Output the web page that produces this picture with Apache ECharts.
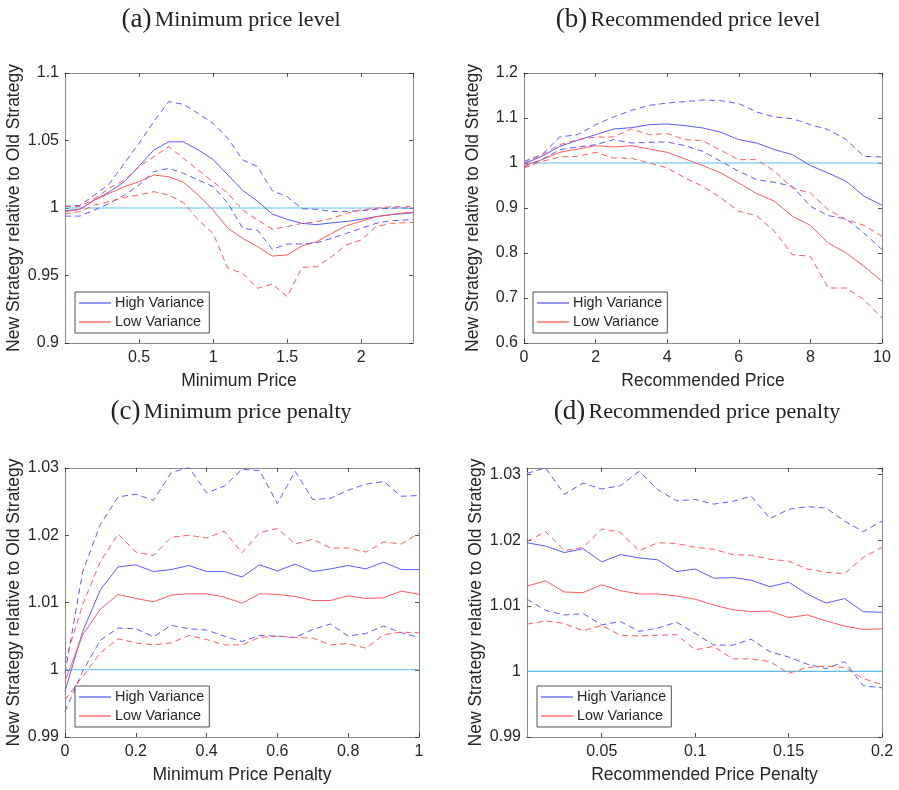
<!DOCTYPE html>
<html>
<head>
<meta charset="utf-8">
<script src="https://cdn.jsdelivr.net/npm/echarts@6/dist/echarts.min.js"></script>
<style>
  html, body { margin: 0; padding: 0; background: #fff; }
  #chart { width: 899px; height: 790px; }
</style>
</head>
<body>
<div id="chart"></div>
<script>
// ---- (a) Minimum price level ----
const minPriceX = [0, 0.1, 0.2, 0.3, 0.4, 0.5, 0.6, 0.7, 0.8, 0.9, 1.0, 1.1, 1.2, 1.3, 1.4, 1.5, 1.6, 1.7, 1.8, 1.9, 2.0, 2.1, 2.2, 2.3, 2.35];
const minPriceHiMean  = [0.998, 0.999, 1.006, 1.012, 1.0195, 1.031, 1.043, 1.049, 1.049, 1.043, 1.036, 1.0245, 1.013, 1.005, 0.9955, 0.9916, 0.9886, 0.9877, 0.989, 0.990, 0.9916, 0.9936, 0.995, 0.996, 0.9965];
const minPriceHiUpper = [1.001, 1.002, 1.0096, 1.018, 1.033, 1.048, 1.064, 1.0788, 1.0768, 1.070, 1.0627, 1.0516, 1.0356, 1.0306, 1.0128, 1.0084, 0.9995, 0.999, 0.9975, 0.9975, 0.998, 0.999, 1.0, 1.0, 1.0];
const minPriceHiLower = [0.994, 0.994, 0.9985, 1.0035, 1.0096, 1.017, 1.0269, 1.0294, 1.0257, 1.0207, 1.0158, 1.0035, 0.985, 0.9835, 0.9694, 0.9733, 0.9733, 0.9743, 0.9775, 0.9812, 0.9849, 0.9886, 0.9906, 0.9911, 0.9915];
const minPriceLoMean  = [0.9973, 0.999, 1.0059, 1.0109, 1.0158, 1.0195, 1.0244, 1.0232, 1.019, 1.0096, 0.9985, 0.985, 0.9775, 0.9714, 0.9644, 0.9652, 0.9719, 0.9751, 0.9812, 0.9869, 0.9901, 0.9936, 0.9951, 0.9965, 0.997];
const minPriceLoUpper = [1.0015, 1.001, 1.007, 1.0146, 1.0207, 1.0306, 1.038, 1.0454, 1.0368, 1.0281, 1.0195, 1.0109, 0.9985, 0.991, 0.9844, 0.9862, 0.9886, 0.9899, 0.9923, 0.996, 0.9985, 0.9998, 1.001, 1.001, 1.001];
const minPriceLoLower = [0.9956, 0.9973, 1.0022, 1.0047, 1.0079, 1.0096, 1.0121, 1.0096, 1.004, 0.9911, 0.9812, 0.9553, 0.9516, 0.9405, 0.9437, 0.9343, 0.956, 0.9565, 0.964, 0.9726, 0.9763, 0.9862, 0.9886, 0.9891, 0.9893];

// ---- (b) Recommended price level ----
const recPriceX = [0, 0.5, 1, 1.5, 2, 2.5, 3, 3.5, 4, 4.5, 5, 5.5, 6, 6.5, 7, 7.5, 8, 8.5, 9, 9.5, 10];
const recPriceHiMean  = [0.9985, 1.0148, 1.037, 1.0504, 1.063, 1.0756, 1.0785, 1.0852, 1.0867, 1.083, 1.0778, 1.0681, 1.0519, 1.0444, 1.0296, 1.0185, 0.9941, 0.9778, 0.9593, 0.926, 0.906];
const recPriceHiUpper = [1.0037, 1.0185, 1.0578, 1.063, 1.0852, 1.1022, 1.117, 1.128, 1.1333, 1.1363, 1.14, 1.1385, 1.1319, 1.1133, 1.1022, 1.0985, 1.0852, 1.0741, 1.0519, 1.0148, 1.0133];
const recPriceHiLower = [0.9911, 1.0074, 1.0296, 1.0356, 1.0407, 1.0519, 1.0444, 1.0459, 1.0467, 1.0385, 1.0259, 1.0037, 0.9815, 0.963, 0.957, 0.9481, 0.9037, 0.883, 0.8756, 0.8444, 0.8074];
const recPriceLoMean  = [0.9941, 1.0074, 1.0237, 1.0311, 1.0385, 1.0356, 1.0385, 1.0311, 1.0237, 1.0089, 0.9941, 0.9778, 0.9556, 0.9319, 0.9148, 0.8815, 0.8615, 0.8222, 0.8, 0.7704, 0.737];
const recPriceLoUpper = [0.9995, 1.0185, 1.0407, 1.0519, 1.0578, 1.0578, 1.0756, 1.063, 1.0652, 1.0519, 1.0496, 1.0281, 1.0074, 1.0074, 0.9815, 0.9444, 0.9333, 0.8963, 0.8741, 0.8615, 0.837];
const recPriceLoLower = [0.9889, 1.0037, 1.0133, 1.0148, 1.0237, 1.0111, 1.0104, 1.0, 0.9889, 0.9667, 0.9481, 0.9222, 0.8926, 0.883, 0.8481, 0.7963, 0.7926, 0.7222, 0.7222, 0.6963, 0.6556];

// ---- (c) Minimum price penalty ----
const minPenX = [0, 0.05, 0.1, 0.15, 0.2, 0.25, 0.3, 0.35, 0.4, 0.45, 0.5, 0.55, 0.6, 0.65, 0.7, 0.75, 0.8, 0.85, 0.9, 0.95, 1.0];
const minPenHiMean  = [0.9968, 1.0057, 1.0119, 1.0153, 1.0156, 1.0146, 1.0149, 1.0155, 1.0146, 1.0146, 1.0138, 1.0156, 1.0147, 1.0157, 1.0146, 1.015, 1.0155, 1.015, 1.016, 1.0149, 1.0149];
const minPenHiUpper = [0.9995, 1.0146, 1.0216, 1.0257, 1.0261, 1.0252, 1.0293, 1.0301, 1.0263, 1.0273, 1.0298, 1.0296, 1.0247, 1.0295, 1.0253, 1.0255, 1.0267, 1.0276, 1.028, 1.0258, 1.0259];
const minPenHiLower = [0.9938, 0.9998, 1.0044, 1.0062, 1.0061, 1.0049, 1.0066, 1.0061, 1.0059, 1.005, 1.0042, 1.0051, 1.005, 1.0048, 1.006, 1.0068, 1.005, 1.0054, 1.0065, 1.0055, 1.0048];
const minPenLoMean  = [0.9983, 1.0052, 1.009, 1.0112, 1.0106, 1.0101, 1.0111, 1.0113, 1.0113, 1.0108, 1.0099, 1.0113, 1.0112, 1.0109, 1.0103, 1.0103, 1.011, 1.0106, 1.0107, 1.0117, 1.0112];
const minPenLoUpper = [1.0012, 1.0097, 1.0161, 1.0202, 1.0175, 1.017, 1.0197, 1.02, 1.0196, 1.0206, 1.0174, 1.0204, 1.021, 1.0187, 1.0194, 1.0181, 1.0181, 1.0175, 1.019, 1.0187, 1.0203];
const minPenLoLower = [0.9955, 0.999, 1.0025, 1.0046, 1.004, 1.0037, 1.004, 1.0051, 1.0045, 1.0037, 1.0037, 1.0048, 1.005, 1.0048, 1.0047, 1.0037, 1.0039, 1.0032, 1.0052, 1.0056, 1.0055];

// ---- (d) Recommended price penalty ----
const recPenX = [0.01, 0.02, 0.03, 0.04, 0.05, 0.06, 0.07, 0.08, 0.09, 0.1, 0.11, 0.12, 0.13, 0.14, 0.15, 0.16, 0.17, 0.18, 0.19, 0.2];
const recPenHiMean  = [1.0196, 1.0191, 1.0181, 1.0187, 1.0167, 1.0178, 1.0173, 1.017, 1.0152, 1.0156, 1.0142, 1.0143, 1.0139, 1.0129, 1.0136, 1.0118, 1.0104, 1.0111, 1.0091, 1.009];
const recPenHiUpper = [1.0302, 1.031, 1.027, 1.0287, 1.0278, 1.0283, 1.0305, 1.0277, 1.026, 1.0262, 1.0255, 1.0259, 1.0267, 1.0233, 1.0247, 1.0251, 1.0249, 1.0229, 1.0213, 1.0229];
const recPenHiLower = [1.011, 1.0093, 1.0086, 1.0088, 1.0071, 1.0076, 1.0061, 1.0066, 1.0075, 1.0058, 1.004, 1.004, 1.0049, 1.003, 1.0022, 1.0011, 1.0004, 1.0015, 0.9978, 0.9975];
const recPenLoMean  = [1.013, 1.0138, 1.0121, 1.012, 1.0132, 1.0123, 1.0118, 1.0118, 1.0115, 1.011, 1.0101, 1.0094, 1.0091, 1.0092, 1.0082, 1.0086, 1.0077, 1.0069, 1.0064, 1.0065];
const recPenLoUpper = [1.0198, 1.0213, 1.0184, 1.0189, 1.0217, 1.0212, 1.0184, 1.0196, 1.0195, 1.0189, 1.0186, 1.0178, 1.0177, 1.0171, 1.0168, 1.0156, 1.0151, 1.0149, 1.0174, 1.0189];
const recPenLoLower = [1.0072, 1.0077, 1.0073, 1.0062, 1.007, 1.0055, 1.0054, 1.0055, 1.0056, 1.0033, 1.0038, 1.0019, 1.0019, 1.0015, 0.9997, 1.0006, 1.0008, 1.0006, 0.9989, 0.998];

// reference level: new strategy equal to old strategy
const BASELINE = 1;

const captions = [
  ['(a)', 'Minimum price level'],
  ['(b)', 'Recommended price level'],
  ['(c)', 'Minimum price penalty'],
  ['(d)', 'Recommended price penalty']
];
const xAxisNames = ['Minimum Price', 'Recommended Price', 'Minimum Price Penalty', 'Recommended Price Penalty'];
const yAxisName = 'New Strategy relative to Old Strategy';
const legendNames = ['High Variance', 'Low Variance'];

const HI_COLOR = '#5b5bff';
const LO_COLOR = '#ff5b5b';
const REF_COLOR = '#5cbde9';
const INK = '#262626';
const FRAME = '#8a8a8a';
const SANS = '"Liberation Sans", Arial, sans-serif';
const SERIF = '"Liberation Serif", "DejaVu Serif", serif';

const panels = [
  { grid: { left: 65, top: 73, width: 348, height: 270 },
    x: { min: 0, max: 2.35, interval: 0.5, hideMin: true, hideMax: true },
    y: { min: 0.9, max: 1.1, interval: 0.05 },
    xs: minPriceX,
    d: [minPriceHiMean, minPriceLoMean, minPriceHiUpper, minPriceHiLower, minPriceLoUpper, minPriceLoLower],
    legend: { left: 75, top: 292 }, cap: { x: 231, y: 20 } },
  { grid: { left: 524, top: 73, width: 358, height: 270 },
    x: { min: 0, max: 10, interval: 2 },
    y: { min: 0.6, max: 1.2, interval: 0.1 },
    xs: recPriceX,
    d: [recPriceHiMean, recPriceLoMean, recPriceHiUpper, recPriceHiLower, recPriceLoUpper, recPriceLoLower],
    legend: { left: 533, top: 292 }, cap: { x: 688, y: 20 } },
  { grid: { left: 65, top: 468, width: 354, height: 269 },
    x: { min: 0, max: 1, interval: 0.2 },
    y: { min: 0.99, max: 1.03, interval: 0.01 },
    xs: minPenX,
    d: [minPenHiMean, minPenLoMean, minPenHiUpper, minPenHiLower, minPenLoUpper, minPenLoLower],
    legend: { left: 75, top: 686 }, cap: { x: 231, y: 412 } },
  { grid: { left: 527, top: 468, width: 355, height: 269 },
    x: { min: 0.01, max: 0.2, splitNumber: 4, hideMin: true },
    y: { min: 0.99, max: 1.031, interval: 0.01, hideMax: true },
    xs: recPenX,
    d: [recPenHiMean, recPenLoMean, recPenHiUpper, recPenHiLower, recPenLoUpper, recPenLoLower],
    legend: { left: 537, top: 686 }, cap: { x: 697, y: 412 } }
];

const grid = [], xAxis = [], yAxis = [], series = [], legend = [], graphic = [];

function pairs(xs, ys) { return xs.map((x, i) => [x, ys[i]]); }

panels.forEach((p, i) => {
  grid.push(Object.assign({ containLabel: false }, p.grid));
  const tick = { show: true, inside: true, length: 4, lineStyle: { color: INK, width: 0.8 } };
  const line = { show: true, onZero: false, lineStyle: { color: FRAME, width: 1 } };
  const xScale = { type: 'value', min: p.x.min, max: p.x.max };
  if (p.x.interval) xScale.interval = p.x.interval;
  if (p.x.splitNumber) xScale.splitNumber = p.x.splitNumber;
  const yScale = { type: 'value', min: p.y.min, max: p.y.max, interval: p.y.interval };

  // bottom / left axes carry labels
  xAxis.push(Object.assign({}, xScale, {
    gridIndex: i, position: 'bottom',
    name: xAxisNames[i], nameLocation: 'middle', nameGap: 29,
    nameTextStyle: { fontFamily: SANS, fontSize: 17.5, color: INK },
    axisLine: line, axisTick: tick, splitLine: { show: false },
    axisLabel: { fontFamily: SANS, fontSize: 16, color: INK, margin: 7,
      showMinLabel: !p.x.hideMin, showMaxLabel: !p.x.hideMax }
  }));
  yAxis.push(Object.assign({}, yScale, {
    gridIndex: i, position: 'left',
    name: yAxisName, nameLocation: 'middle', nameGap: 42,
    nameTextStyle: { fontFamily: SANS, fontSize: 17.5, color: INK },
    axisLine: line, axisTick: tick, splitLine: { show: false },
    axisLabel: { fontFamily: SANS, fontSize: 16, color: INK, margin: 6,
      showMaxLabel: !p.y.hideMax }
  }));
  // top / right mirror axes close the box
  xAxis.push(Object.assign({}, xScale, {
    gridIndex: i, position: 'top',
    axisLine: line, axisTick: tick, splitLine: { show: false }, axisLabel: { show: false }
  }));
  yAxis.push(Object.assign({}, yScale, {
    gridIndex: i, position: 'right',
    axisLine: line, axisTick: tick, splitLine: { show: false }, axisLabel: { show: false }
  }));

  const xi = i * 2, yi = i * 2;
  // horizontal reference level across the whole x range
  series.push({
    type: 'line', name: 'reference', xAxisIndex: xi, yAxisIndex: yi,
    data: [[p.x.min, BASELINE], [p.x.max, BASELINE]], symbol: 'none',
    silent: true, animation: false, z: 1,
    itemStyle: { color: REF_COLOR },
    lineStyle: { color: REF_COLOR, width: 1.2, type: 'solid' }
  });
  const styles = [
    { name: legendNames[0], color: HI_COLOR, type: 'solid' },
    { name: legendNames[1], color: LO_COLOR, type: 'solid' },
    { name: 'High Variance upper', color: HI_COLOR, type: [6, 4] },
    { name: 'High Variance lower', color: HI_COLOR, type: [6, 4] },
    { name: 'Low Variance upper', color: LO_COLOR, type: [6, 4] },
    { name: 'Low Variance lower', color: LO_COLOR, type: [6, 4] }
  ];
  styles.forEach((s, k) => {
    series.push({
      type: 'line', name: s.name, xAxisIndex: xi, yAxisIndex: yi,
      data: pairs(p.xs, p.d[k]), symbol: 'none', silent: true, animation: false,
      itemStyle: { color: s.color },
      lineStyle: { color: s.color, width: 1, type: s.type }, z: 2
    });
  });

  legend.push({
    orient: 'vertical', left: p.legend.left, top: p.legend.top,
    data: legendNames, icon: 'rect', itemWidth: 32, itemHeight: 1.3, itemGap: 3,
    padding: [3, 5, 3, 4], backgroundColor: '#fff', borderColor: INK, borderWidth: 0.8,
    selectedMode: false, z: 10,
    textStyle: { fontFamily: SANS, fontSize: 14.4, color: INK, lineHeight: 16, padding: [0, 0, 0, -1] }
  });

  graphic.push({
    type: 'text', x: p.cap.x, y: p.cap.y, silent: true,
    style: {
      text: '{p|' + captions[i][0] + '} {t|' + captions[i][1] + '}',
      align: 'center', verticalAlign: 'middle', fill: '#222',
      rich: {
        p: { fontFamily: SERIF, fontSize: 27, fill: '#222' },
        t: { fontFamily: SERIF, fontSize: 22, fill: '#222' }
      }
    }
  });
});

const chart = echarts.init(document.getElementById('chart'), null, { renderer: 'canvas' });
chart.setOption({
  backgroundColor: '#fff',
  animation: false,
  grid, xAxis, yAxis, series, legend, graphic
});
</script>
</body>
</html>
